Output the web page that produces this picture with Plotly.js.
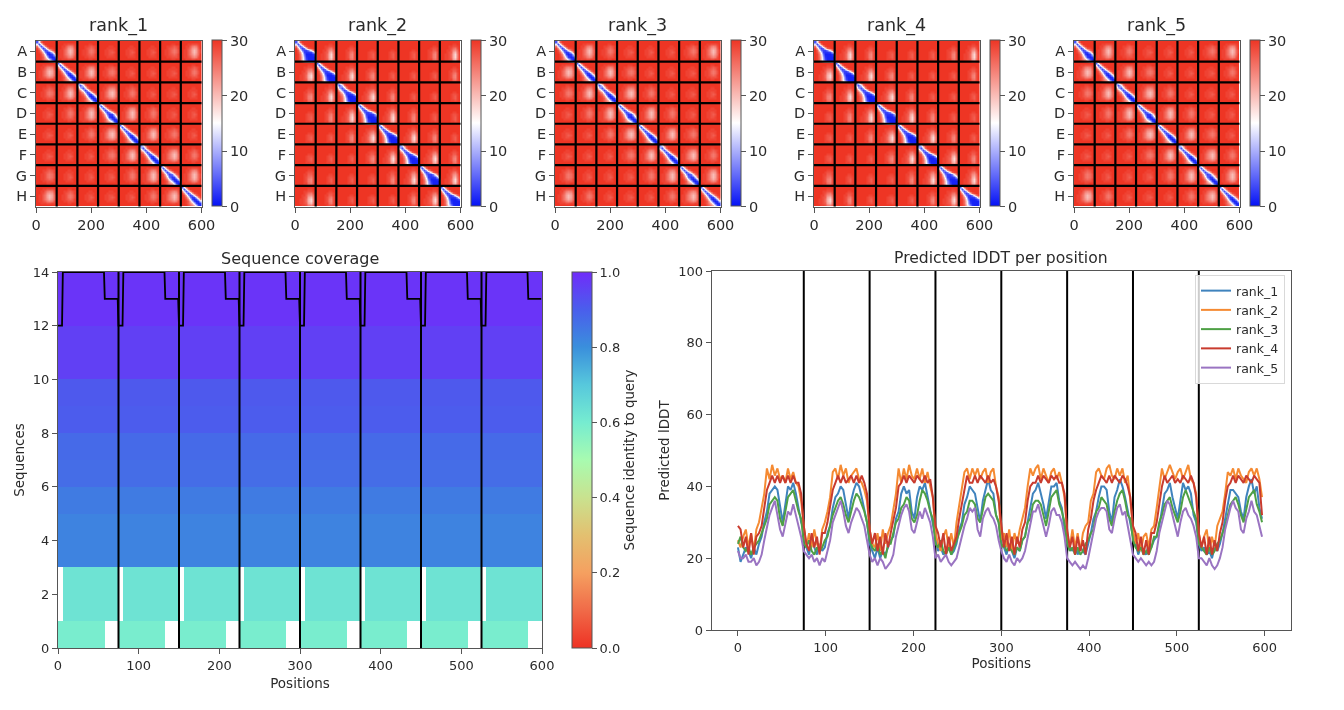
<!DOCTYPE html>
<html>
<head>
<meta charset="utf-8">
<script src="https://cdn.plot.ly/plotly-3.0.1.min.js"></script>
<style>
html,body{margin:0;padding:0;background:#fff;}
#plot{width:1344px;height:710px;filter:blur(0.6px);}
</style>
</head>
<body>
<div id="plot"></div>
<script>
// ---------- labels ----------
const rankNames = ["rank_1","rank_2","rank_3","rank_4","rank_5"];
const chainLabels = ["A","B","C","D","E","F","G","H"];
const chainLength = 75;
const totalLength = 600;

// ---------- PAE block patterns (10x10 cells, top row first) ----------
const narrowDiag = [
 [4,16,27,30,30,30,30,30,30,30],
 [14,4,14,26,30,30,30,30,30,30],
 [25,12,4,12,24,29,30,30,30,30],
 [29,23,11,3,9,21,28,29,30,30],
 [30,28,21,9,3,6,17,26,29,30],
 [30,29,26,18,6,2,3,12,24,29],
 [30,30,28,24,14,3,1,3,11,24],
 [30,30,29,27,21,12,3,1,2,11],
 [30,30,29,27,24,20,12,3,1,2],
 [30,30,30,28,26,24,20,12,3,1]];
const narrowNear = [
 [30,30,30,30,30,30,30,30,30,30],
 [30,30,30,29,29,28,28,28,29,30],
 [30,30,29,29,27,25,24,25,28,30],
 [30,30,29,28,26,23,22,23,27,30],
 [30,29,29,27,25,22,20,22,26,29],
 [30,29,29,27,25,22,20,22,26,29],
 [30,29,29,27,25,23,21,23,26,30],
 [30,29,29,28,27,25,24,25,28,30],
 [30,30,29,29,29,28,28,29,29,30],
 [30,30,30,30,30,30,30,30,30,30]];
const narrowMid = [
 [30,30,30,30,30,30,30,30,30,30],
 [30,30,30,30,30,29,29,30,30,30],
 [30,30,30,29,29,28,27,28,29,30],
 [30,30,30,29,28,27,26,27,29,30],
 [30,30,29,29,28,26,25,26,28,30],
 [30,30,29,29,28,26,25,26,28,30],
 [30,30,29,29,28,27,26,27,29,30],
 [30,30,30,29,29,28,28,28,29,30],
 [30,30,30,30,30,29,29,30,30,30],
 [30,30,30,30,30,30,30,30,30,30]];
const narrowFar = [
 [30,30,30,30,30,30,30,30,30,30],
 [30,30,30,30,30,30,30,30,30,30],
 [30,30,30,30,30,29,29,30,30,30],
 [30,30,30,30,29,29,29,29,30,30],
 [30,30,30,29,29,28,28,29,30,30],
 [30,30,30,29,29,28,27,28,30,30],
 [30,30,30,29,29,28,28,29,30,30],
 [30,30,30,30,29,29,29,29,30,30],
 [30,30,30,30,30,30,30,30,30,30],
 [30,30,30,30,30,30,30,30,30,30]];
const wideDiag = [
 [4,14,27,30,30,30,30,30,30,30],
 [13,4,13,26,30,30,30,30,30,30],
 [25,11,4,10,23,29,30,30,30,30],
 [29,21,8,3,6,18,27,29,30,30],
 [30,27,17,6,3,3,7,17,25,29],
 [30,28,23,13,3,2,2,3,9,20],
 [30,29,25,17,6,1,1,1,2,5],
 [30,29,26,19,9,2,1,1,1,1],
 [30,29,26,19,10,3,1,1,1,1],
 [30,29,27,21,13,7,2,1,1,1]];
const wideNear = [
 [30,30,30,30,30,30,30,30,30,30],
 [30,30,30,30,30,30,29,29,30,30],
 [30,30,30,30,29,29,28,28,29,30],
 [30,30,30,30,29,28,26,25,28,30],
 [30,30,30,29,29,27,24,23,26,30],
 [30,30,30,29,28,27,22,20,25,29],
 [30,30,29,29,28,26,21,18,24,29],
 [30,30,29,29,28,26,21,18,24,29],
 [30,30,29,29,28,27,22,20,25,29],
 [30,30,30,29,29,28,25,24,27,30]];
const wideMid = [
 [30,30,30,30,30,30,30,30,30,30],
 [30,30,30,30,30,30,30,30,30,30],
 [30,30,30,30,30,30,29,29,30,30],
 [30,30,30,30,30,29,28,28,29,30],
 [30,30,30,30,29,29,27,27,29,30],
 [30,30,30,30,29,28,26,25,28,30],
 [30,30,30,30,29,28,25,24,28,30],
 [30,30,30,30,29,28,25,24,28,30],
 [30,30,30,30,29,29,26,25,28,30],
 [30,30,30,30,30,29,28,28,29,30]];
const wideFar = [
 [30,30,30,30,30,30,30,30,30,30],
 [30,30,30,30,30,30,30,30,30,30],
 [30,30,30,30,30,30,30,30,30,30],
 [30,30,30,30,30,30,30,30,30,30],
 [30,30,30,30,30,30,29,29,30,30],
 [30,30,30,30,30,29,28,28,29,30],
 [30,30,30,30,30,29,28,27,29,30],
 [30,30,30,30,30,29,28,27,29,30],
 [30,30,30,30,30,29,29,28,29,30],
 [30,30,30,30,30,30,30,30,30,30]];
const patternOfRank = [
 [narrowDiag,narrowNear,narrowMid,narrowFar,narrowFar],
 [wideDiag,wideNear,wideMid,wideFar,wideFar],
 [narrowDiag,narrowNear,narrowMid,narrowFar,narrowFar],
 [wideDiag,wideNear,wideMid,wideFar,wideFar],
 [narrowDiag,narrowNear,narrowMid,narrowFar,narrowFar]];

// ---------- sequence coverage rows (bottom row first) ----------
const rowIdentity = [0.595,0.625,0.625,0.825,0.825,0.84,0.87,0.875,0.905,0.91,0.96,0.96,0.985,0.985];
const rowStart    = [0,6,6,0,0,0,0,0,0,0,0,0,0,0];
const rowEnd      = [58,75,75,75,75,75,75,75,75,75,75,75,75,75];

// ---------- predicted lDDT, one value every 3 positions, one row per chain ----------
const lddtStep = 3;
const rank1 = [
 23,19,21,23,22,20,23,21,24,26,30,33,38,39,40,39,34,30,35,40,39,41,38,34,30,
 28,23,21,25,23,21,24,22,23,27,29,34,37,38,40,39,35,31,36,39,41,40,37,33,30,
 24,22,20,23,20,22,21,23,25,26,31,33,38,40,38,39,33,31,37,40,39,41,37,34,29,
 25,22,23,21,22,24,21,22,24,28,30,35,37,40,39,38,34,30,36,39,42,39,38,32,30,
 24,23,21,24,22,20,23,22,25,26,30,34,38,39,41,38,35,31,35,40,40,41,36,34,28,
 25,23,22,24,21,23,22,21,24,27,31,33,37,40,40,39,33,30,37,39,42,40,37,33,29,
 26,24,21,23,22,21,24,23,25,26,29,34,38,39,41,37,34,31,36,41,39,40,38,32,30,
 24,22,23,21,22,20,23,22,24,27,31,34,39,39,38,37,33,31,37,40,42,38,40,34,31];
const rank2 = [
 25,23,26,28,23,27,22,28,30,34,38,45,42,46,43,45,42,43,41,45,42,44,41,40,36,
 29,23,27,23,28,24,22,28,30,33,37,44,45,42,46,43,45,41,43,44,45,42,41,39,36,
 28,24,23,27,22,28,24,27,29,34,38,45,41,45,42,46,43,42,45,42,45,41,44,40,37,
 27,24,22,26,28,23,27,23,30,35,39,44,45,42,45,43,45,42,44,45,41,44,45,40,37,
 25,27,23,28,22,27,24,28,31,34,40,45,43,45,46,42,45,43,41,44,45,42,44,41,37,
 27,23,28,23,27,22,27,29,30,36,38,44,45,43,42,45,46,43,42,45,43,45,41,43,36,
 28,24,27,22,26,27,23,28,29,34,39,45,42,44,46,44,42,44,45,42,44,46,42,41,38,
 27,23,26,28,22,26,23,29,31,33,38,44,43,45,42,45,43,42,41,44,45,43,45,42,37];
const rank3 = [
 24,26,23,22,23,21,23,24,25,27,29,31,35,36,37,36,31,29,33,37,38,39,36,33,31,
 24,23,25,22,21,23,22,23,25,26,29,32,34,36,37,35,32,30,33,36,38,37,35,33,30,
 25,23,22,24,21,22,20,24,24,27,30,31,34,35,37,36,31,30,32,36,39,38,36,33,31,
 24,23,25,22,21,23,21,23,25,27,29,32,33,36,36,35,31,30,34,37,38,37,36,32,30,
 23,24,22,23,22,21,23,22,25,26,30,31,35,36,36,35,32,29,33,37,38,39,35,33,30,
 24,22,23,21,23,21,22,24,25,27,28,33,34,37,36,35,31,29,33,36,38,39,36,32,31,
 25,23,22,23,21,22,21,23,26,26,30,32,35,36,37,34,32,30,33,37,39,37,35,33,31,
 24,23,22,21,23,21,22,24,25,27,29,32,35,36,37,35,32,30,34,37,38,39,35,33,30];
const rank4 = [
 29,28,23,26,21,27,21,26,27,29,34,39,41,43,41,43,41,43,41,43,41,43,41,41,38,
 29,24,22,27,23,26,21,27,27,30,35,39,41,43,41,43,41,42,43,41,43,41,43,41,38,
 28,24,27,22,26,21,27,23,27,31,34,40,41,43,41,43,42,41,43,42,41,43,41,42,37,
 29,27,23,27,21,26,22,24,26,31,35,39,43,41,41,43,41,43,42,41,43,41,42,40,36,
 29,23,27,22,26,21,26,23,28,30,36,40,41,41,43,41,43,42,41,43,42,43,41,41,38,
 28,23,26,21,26,22,25,21,28,31,36,39,41,43,42,41,43,41,43,42,41,43,42,40,37,
 29,27,22,26,21,25,21,27,27,30,35,40,43,41,42,43,41,42,41,43,42,41,43,41,37,
 27,23,26,21,26,21,25,22,27,30,36,40,41,43,41,43,42,41,43,42,41,43,42,41,32];
const rank5 = [
 22,20,20,21,19,19,20,18,19,21,25,29,32,34,36,32,28,26,30,33,32,35,32,29,26,
 22,21,20,21,19,20,18,20,19,22,25,30,32,34,36,33,29,27,30,32,34,33,31,29,25,
 21,19,20,18,20,19,17,18,19,21,26,29,32,34,35,33,28,27,30,33,31,34,32,30,26,
 20,21,19,20,21,19,18,19,20,23,26,29,31,34,33,34,28,26,31,33,34,32,31,29,25,
 22,20,19,21,19,18,20,19,20,22,26,30,33,33,35,32,29,26,29,33,34,32,32,30,26,
 20,19,18,19,18,17,18,17,20,24,27,31,33,34,34,33,28,27,31,34,35,32,33,29,26,
 21,20,19,20,19,18,19,18,19,22,27,30,33,36,35,32,29,26,30,33,34,32,31,29,26,
 20,20,19,18,20,18,17,18,20,23,28,31,34,36,34,33,28,27,31,33,36,33,32,29,26];
const lddtSeries = [rank1,rank2,rank3,rank4,rank5];
const lineColors = ["#3f83bd","#f58a32","#4ea045","#c93b2e","#9a74c2"];

// ---------- styles ----------
const FONT = "DejaVu Sans, sans-serif";
const INK = "#2b2b2b";
const SPINE = "#555555";
const paeScale = [[0,"#0512f5"],[0.5,"#ffffff"],[1,"#ee3524"]];
const rainbowScale = [[0,"#ee3224"],[0.1,"#f06a48"],[0.2,"#f5a060"],[0.3,"#e3c070"],[0.4,"#c9e28f"],[0.5,"#a8fbb0"],
  [0.6,"#76ecd0"],[0.7,"#57c8dc"],[0.8,"#3a8fdc"],[0.9,"#4a5eec"],[1,"#702cfa"]];

const W = 1344, H = 710;
const fx = p => p / W;
const fy = p => 1 - p / H;

const chainEdges = [];
for (let i = 1; i < chainLabels.length; i++) chainEdges.push(i * chainLength);
const chainCentres = chainLabels.map((_, i) => (i + 0.5) * chainLength);

const panelLeft = [36,295,555,814,1074];
const panelSize = 165.5;
const panelTop = 41, panelBottom = 206.5;

const data = [];
const layout = {
  width: W, height: H, margin: {l:0,r:0,t:0,b:0,pad:0},
  paper_bgcolor: "#fff", plot_bgcolor: "#fff",
  font: {family: FONT, color: INK, size: 13},
  showlegend: true, shapes: [], annotations: [],
  legend: {x: fx(1285), xanchor: "right", y: fy(275), yanchor: "top",
    bgcolor: "rgba(255,255,255,0.8)", bordercolor: "#d9d9d9", borderwidth: 1,
    font: {family: FONT, size: 12.5, color: INK}, itemwidth: 30, tracegroupgap: 0}
};

function axisBase(extra) {
  return Object.assign({showgrid:false, zeroline:false, showline:true, linecolor:SPINE, linewidth:1, mirror:true,
    ticks:"outside", ticklen:5, tickwidth:1, tickcolor:SPINE, automargin:false, fixedrange:true}, extra);
}
function addTitle(text, cx, cy, size) {
  layout.annotations.push({text:text, x:fx(cx), y:fy(cy), xref:"paper", yref:"paper",
    showarrow:false, xanchor:"center", yanchor:"middle", font:{family:FONT,size:size,color:INK}});
}
function addLines(xName, yName, xValues, yValues, width, below) {
  xValues.forEach(v => layout.shapes.push({type:"line", xref:xName, yref:yName+" domain", x0:v, x1:v, y0:0, y1:1,
    line:{color:"#000",width:width}, layer: below ? "below" : "above"}));
  yValues.forEach(v => layout.shapes.push({type:"line", xref:xName+" domain", yref:yName, x0:0, x1:1, y0:v, y1:v,
    line:{color:"#000",width:width}, layer: below ? "below" : "above"}));
}

// ---------- five PAE panels ----------
const cellsPerChain = narrowDiag.length;
const cellSize = chainLength / cellsPerChain;
rankNames.forEach((name, r) => {
  const n = chainLabels.length * cellsPerChain;
  const z = [];
  for (let row = 0; row < n; row++) {
    const line = [];
    for (let col = 0; col < n; col++) {
      const a = Math.floor(row / cellsPerChain), b = Math.floor(col / cellsPerChain);
      const d = Math.abs(a - b);
      const ring = Math.min(d, chainLabels.length - d);
      line.push(patternOfRank[r][ring][row % cellsPerChain][col % cellsPerChain]);
    }
    z.push(line);
  }
  const centres = z.map((_, i) => (i + 0.5) * cellSize);
  const id = r + 1;
  const xName = "x" + id, yName = "y" + id;
  data.push({type:"heatmap", x:centres, y:centres, z:z, xaxis:xName, yaxis:yName, zmin:0, zmax:30,
    zsmooth:"best", colorscale:paeScale, hoverinfo:"skip", showlegend:false,
    colorbar:{x:fx(panelLeft[r]+176), xanchor:"left", xpad:0, y:fy(panelBottom), yanchor:"bottom", ypad:0,
      lenmode:"pixels", len:panelSize, thicknessmode:"pixels", thickness:10,
      outlinewidth:1, outlinecolor:SPINE, tickvals:[0,10,20,30], ticks:"outside", ticklen:5, tickcolor:SPINE,
      tickfont:{family:FONT,size:14.5,color:INK}}});
  layout["xaxis"+id] = axisBase({domain:[fx(panelLeft[r]), fx(panelLeft[r]+panelSize)], anchor:yName,
    range:[0,totalLength], tickvals:[0,200,400,600], tickfont:{family:FONT,size:14.5,color:INK}});
  layout["yaxis"+id] = axisBase({domain:[fy(panelBottom), fy(panelTop)], anchor:xName,
    range:[totalLength,0], tickvals:chainCentres, ticktext:chainLabels, tickfont:{family:FONT,size:14.5,color:INK}});
  addLines(xName, yName, chainEdges, chainEdges, 2.2, false);
  addTitle(name, panelLeft[r]+panelSize/2, 26, 17.5);
});

// ---------- sequence coverage ----------
const positions = [];
for (let i = 0; i < totalLength; i++) positions.push(i);
const coverageZ = rowIdentity.map((v, row) => positions.map(p => {
  const q = p % chainLength;
  return (q >= rowStart[row] && q < rowEnd[row]) ? v : null;
}));
const coverageCount = positions.map(p => coverageZ.reduce((s, line) => s + (line[p] === null ? 0 : 1), 0));
data.push({type:"heatmap", x:positions.map(p => p + 0.5), y:rowIdentity.map((_, i) => i + 0.5), z:coverageZ,
  xaxis:"x6", yaxis:"y6", zmin:0, zmax:1, colorscale:rainbowScale, hoverinfo:"skip", showlegend:false,
  hoverongaps:false,
  colorbar:{x:fx(572), xanchor:"left", xpad:0, y:fy(648), yanchor:"bottom", ypad:0,
    lenmode:"pixels", len:376, thicknessmode:"pixels", thickness:19.5,
    outlinewidth:1, outlinecolor:SPINE, tickvals:[0,0.2,0.4,0.6,0.8,1], ticktext:["0.0","0.2","0.4","0.6","0.8","1.0"],
    ticks:"outside", ticklen:5, tickcolor:SPINE, tickfont:{family:FONT,size:13,color:INK},
    title:{text:"Sequence identity to query", side:"right", font:{family:FONT,size:13.3,color:INK}}}});
data.push({type:"scatter", mode:"lines", x:positions, y:coverageCount, xaxis:"x6", yaxis:"y6",
  line:{color:"#000",width:1.8}, hoverinfo:"skip", showlegend:false});
layout.xaxis6 = axisBase({domain:[fx(58),fx(542)], anchor:"y6", range:[0,totalLength],
  tickvals:[0,100,200,300,400,500,600], tickfont:{family:FONT,size:13,color:INK},
  title:{text:"Positions", font:{family:FONT,size:13.5,color:INK}, standoff:6}});
layout.yaxis6 = axisBase({domain:[fy(648),fy(272)], anchor:"x6", range:[0,14],
  tickvals:[0,2,4,6,8,10,12,14], tickfont:{family:FONT,size:13,color:INK},
  title:{text:"Sequences", font:{family:FONT,size:13.5,color:INK}, standoff:5}});
addLines("x6","y6",chainEdges,[],2,false);
addTitle("Sequence coverage",300,259,16);

// ---------- predicted lDDT ----------
lddtSeries.forEach((series, r) => {
  data.push({type:"scatter", mode:"lines", name:rankNames[r], x:series.map((_, i) => i * lddtStep), y:series,
    xaxis:"x7", yaxis:"y7", line:{color:lineColors[r],width:2}, hoverinfo:"skip"});
});
layout.xaxis7 = axisBase({domain:[fx(711.6),fx(1291)], anchor:"y7", range:[-30,630],
  tickvals:[0,100,200,300,400,500,600], tickfont:{family:FONT,size:13,color:INK},
  title:{text:"Positions", font:{family:FONT,size:13.5,color:INK}, standoff:3}});
layout.yaxis7 = axisBase({domain:[fy(630),fy(271)], anchor:"x7", range:[0,100],
  tickvals:[0,20,40,60,80,100], tickfont:{family:FONT,size:13,color:INK},
  title:{text:"Predicted lDDT", font:{family:FONT,size:13.5,color:INK}, standoff:5}});
addLines("x7","y7",chainEdges,[],2,true);
addTitle("Predicted lDDT per position",1001,258,15.6);

Plotly.newPlot("plot", data, layout, {displayModeBar:false, staticPlot:true});
</script>
</body>
</html>
